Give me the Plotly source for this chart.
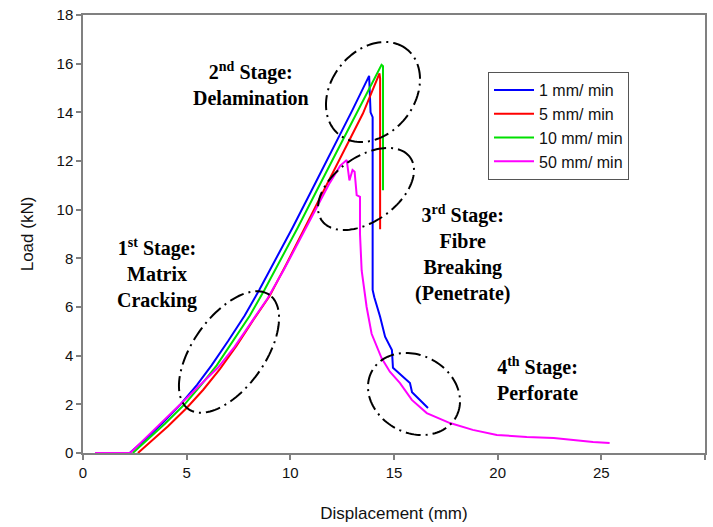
import numpy as np
import plotly.graph_objects as go

# ---------------- data ----------------
x_1 = [2.25, 3.0, 3.8, 4.7, 5.5, 6.2, 7.0, 7.8, 8.5, 9.3, 10.1, 11.0, 12.0, 13.0, 13.8,
       13.87, 13.97, 13.97, 14.05, 14.33, 14.57, 14.9, 14.95, 15.2, 15.77, 15.87, 16.64]
y_1 = [0, 0.55, 1.2, 2.0, 2.8, 3.6, 4.6, 5.65, 6.7, 7.95, 9.25, 10.75, 12.4, 14.1, 15.5,
       14.0, 13.8, 6.7, 6.4, 5.6, 4.78, 4.23, 3.5, 3.3, 2.88, 2.5, 1.85]

x_5 = [2.65, 3.3, 4.1, 5.0, 5.8, 6.6, 7.4, 8.2, 9.0, 9.8, 10.6, 11.5, 12.5, 13.5, 14.3,
       14.33, 14.33]
y_5 = [0, 0.5, 1.1, 1.85, 2.6, 3.45, 4.4, 5.45, 6.45, 7.75, 9.1, 10.6, 12.25, 13.95, 15.6,
       15.4, 9.2]

x_10 = [2.4, 3.1, 3.95, 4.9, 5.7, 6.45, 7.25, 8.05, 8.75, 9.55, 10.35, 11.25, 12.25, 13.25,
        14.4, 14.47, 14.47]
y_10 = [0, 0.55, 1.2, 2.0, 2.8, 3.6, 4.6, 5.65, 6.7, 7.95, 9.25, 10.75, 12.4, 14.05,
        15.95, 15.9, 10.8]

x_50 = [0.58, 2.27, 3.0, 3.8, 4.7, 5.6, 6.5, 7.3, 8.1, 8.9, 9.7, 10.5, 11.3, 11.9, 12.4,
        12.72, 12.85, 13.0, 13.1, 13.2, 13.36, 13.36, 13.44, 13.68, 13.92, 14.4, 14.8,
        15.29, 15.86, 16.58, 17.7, 18.8, 19.96, 21.4, 22.7, 23.65, 24.6, 25.4]
y_50 = [0, 0, 0.6, 1.25, 2.0, 2.75, 3.5, 4.35, 5.35, 6.35, 7.55, 8.85, 10.15, 11.1, 11.8,
        12.04, 11.2, 11.63, 11.56, 10.6, 10.53, 9.0, 7.5, 6.0, 4.9, 3.9, 3.34,
        2.87, 2.18, 1.64, 1.23, 0.95, 0.74, 0.66, 0.62, 0.53, 0.45, 0.41]

series_names = ["1 mm/ min", "5 mm/ min", "10 mm/ min", "50 mm/ min"]
series_colors = ["#0000ff", "#ff0000", "#00e000", "#ff00ff"]

x_ticks = [0, 5, 10, 15, 20, 25, 30]
y_ticks = [0, 2, 4, 6, 8, 10, 12, 14, 16, 18]

# ---------------- figure ----------------
W, H = 713, 527
ML, MR, MT, MB = 83, 8, 15, 74
XR, YR = (0, 30), (0, 18)
pw, ph = W - ML - MR, H - MT - MB
sx = pw / (XR[1] - XR[0])   # px per data unit
sy = ph / (YR[1] - YR[0])

fig = go.Figure()
for xs, ys, nm, c in zip([x_1, x_5, x_10, x_50], [y_1, y_5, y_10, y_50],
                         series_names, series_colors):
    fig.add_trace(go.Scatter(x=xs, y=ys, mode="lines", name=nm,
                             line=dict(color=c, width=2)))

# dash-dot ellipses: center in data units, semi-axes in px, angle in degrees
ellipses = [
    ((229 - ML) / sx, (MT + ph - 352) / sy, 70, 36, 54.6),
    ((373 - ML) / sx, (MT + ph - 92) / sy, 54.5, 41.7, 51.8),
    ((366 - ML) / sx, (MT + ph - 189) / sy, 54.3, 32.2, 35.5),
    ((414 - ML) / sx, (MT + ph - 394) / sy, 47.9, 38.8, -28.3),
]
t = np.linspace(0, 2 * np.pi, 120)
for cx, cy, a, b, ang in ellipses:
    th = np.radians(ang)
    dx = a * np.cos(t) * np.cos(th) - b * np.sin(t) * np.sin(th)
    dy = a * np.cos(t) * np.sin(th) + b * np.sin(t) * np.cos(th)
    px = cx + dx / sx
    py = cy + dy / sy
    path = "M " + " L ".join(f"{u:.4f},{v:.4f}" for u, v in zip(px, py)) + " Z"
    fig.add_shape(type="path", path=path, xref="x", yref="y",
                  line=dict(color="black", width=2, dash="15px,5px,2px,5px"))

ann_font = dict(family="Liberation Serif, Times New Roman, serif", size=20, color="black")
labels = [
    (251, 84, "<b>2<sup>nd</sup> Stage:<br>Delamination</b>"),
    (157, 273, "<b>1<sup>st</sup> Stage:<br>Matrix<br>Cracking</b>"),
    (463, 253, "<b>3<sup>rd</sup> Stage:<br>Fibre<br>Breaking<br>(Penetrate)</b>"),
    (537, 379, "<b>4<sup>th</sup> Stage:<br>Perforate</b>"),
]
for pxx, pyy, txt in labels:
    fig.add_annotation(x=(pxx - ML) / sx, y=(MT + ph - pyy) / sy, xref="x", yref="y",
                       text=txt, showarrow=False, font=ann_font, align="center")

axis_common = dict(showgrid=False, zeroline=False, showline=True, linecolor="#808080",
                   linewidth=1.5, mirror=True, ticks="outside", ticklen=5,
                   tickcolor="#808080", tickwidth=1.5, automargin=False,
                   tickfont=dict(family="Arial, Liberation Sans", size=15, color="#111"))
fig.update_xaxes(range=list(XR), tickvals=x_ticks, **axis_common,
                 title=dict(text="Displacement (mm)", standoff=27,
                            font=dict(family="Arial, Liberation Sans", size=17, color="#111")))
fig.update_yaxes(range=list(YR), tickvals=y_ticks, **axis_common,
                 title=dict(text="Load (kN)", standoff=19,
                            font=dict(family="Arial, Liberation Sans", size=17, color="#111")))

fig.update_layout(
    width=W, height=H,
    margin=dict(l=ML, r=MR, t=MT, b=MB, autoexpand=False),
    plot_bgcolor="white", paper_bgcolor="white",
    legend=dict(x=(488 - ML) / pw, y=(MT + ph - 72) / ph, xanchor="left", yanchor="top",
                bgcolor="white", bordercolor="#555", borderwidth=1,
                font=dict(family="Arial, Liberation Sans", size=16, color="#111"),
                itemwidth=40, tracegroupgap=0),
)

fig.write_html("out.html", config={"displayModeBar": False},
               post_script="document.body.style.margin='0';document.body.style.overflow='hidden';")
